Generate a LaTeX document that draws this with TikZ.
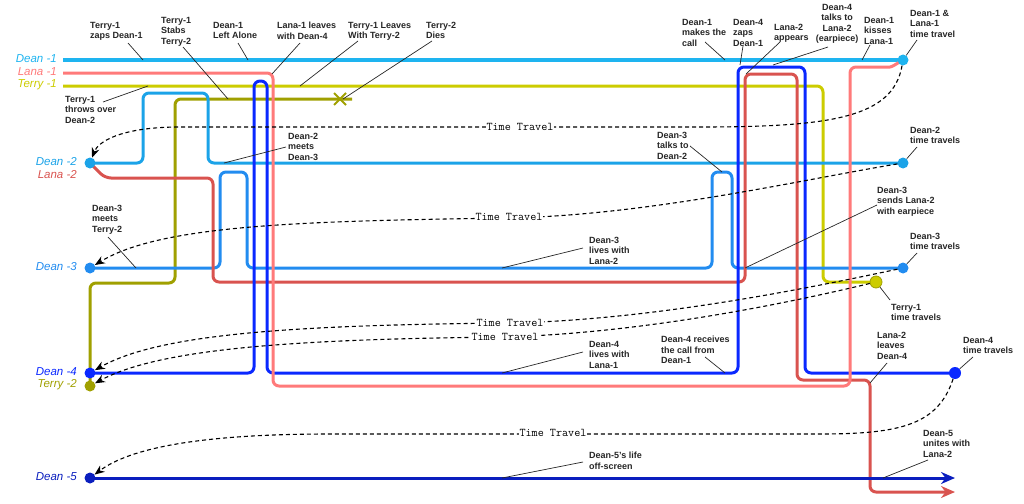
\documentclass[tikz,border=0pt]{standalone}
\usepackage{fontspec}
\setmainfont{Liberation Sans}
\usetikzlibrary{arrows.meta}
\definecolor{cD1}{RGB}{30,180,240}
\definecolor{cL1}{RGB}{255,122,122}
\definecolor{cT1}{RGB}{204,204,0}
\definecolor{cD2}{RGB}{27,163,232}
\definecolor{cD3}{RGB}{34,140,240}
\definecolor{cL2}{RGB}{217,83,79}
\definecolor{cT2}{RGB}{160,160,0}
\definecolor{cD4}{RGB}{10,40,255}
\definecolor{cD5}{RGB}{10,30,190}
\begin{document}
\begin{tikzpicture}[x=1pt,y=-1pt,
 life/.style={line width=3pt, rounded corners=6pt, line join=round},
 ttpath/.style={black, line width=1.1pt, dash pattern=on 4pt off 3pt, -{Stealth[length=10pt,width=8pt]}},
 ttl/.style={fill=white, inner sep=1pt, font=\ttfamily\fontsize{11.8}{13}\selectfont},
 ev/.style={anchor=north west, align=left, inner sep=0pt, font=\bfseries\fontsize{9}{10.6}\selectfont, text=black!85},
 ptr/.style={black!85, line width=0.7pt},
 sidelbl/.style={anchor=east, inner sep=0pt, font=\itshape\fontsize{11.5}{13}\selectfont},
 lifedot/.style={circle, inner sep=0pt, minimum size=11pt},
 bigtip/.style={-{Stealth[length=14pt,width=12pt]}},
]
\useasboundingbox (0,0) rectangle (1024,503);

% life lines
\draw[life,cD1] (63,60) -- (903,60);
\draw[life,cT1] (63,86) -- (823,86) -- (823,282) -- (876,282);
\draw[life,cT2] (90,386) -- (90,283) -- (175,283) -- (175,99) -- (352,99);
\draw[cT2, line width=2pt] (334,93) -- (346,105) (334,105) -- (346,93);
\draw[life,cD2] (90,163) -- (143,163) -- (143,93) -- (208,93) -- (208,163) -- (903,163);
\draw[life,cD3] (90,268) -- (220,268) -- (220,172) -- (247,172) -- (247,268) -- (712,268) -- (712,172) -- (732,172) -- (732,268) -- (903,268);
\draw[life,cL2,bigtip] (90,163) -- (105,178) -- (213,178) -- (213,282) -- (745,282) -- (745,74) -- (797,74) -- (797,380) -- (870,380) -- (870,492) -- (955,492);
\draw[life,cD4] (90,373) -- (254,373) -- (254,81) -- (267,81) -- (267,373) -- (738,373) -- (738,67) -- (805,67) -- (805,373) -- (955,373);
\draw[life,cL1] (63,73) -- (273,73) -- (273,386) -- (850,386) -- (850,67) -- (884,67) to[out=0,in=-150] (903,60);
\draw[life,cD5,bigtip] (90,478) -- (955,478);

% dots
\node[lifedot, fill=cD1] (d1e) at (903,60) {};
\node[lifedot, fill=cD2] (d2s) at (90,163) {};
\node[lifedot, fill=cD2] (d2e) at (903,163) {};
\node[lifedot, fill=cD3] (d3s) at (90,268) {};
\node[lifedot, fill=cD3] (d3e) at (903,268) {};
\node[lifedot, fill=cD4] (d4s) at (90,373) {};
\node[lifedot, fill=cD4, minimum size=12pt] (d4e) at (955,373) {};
\node[lifedot, fill=cT2] (t2s) at (90,386) {};
\node[lifedot, fill=cT1, draw=cT2, line width=0.8pt, minimum size=12pt] (t1e) at (876,282) {};
\node[lifedot, fill=cD5] (d5s) at (90,478) {};

% side labels
\node[sidelbl, text=cD1] (ld1) at (57,59) {Dean -1};
\node[sidelbl, text=cL1] (ll1) at (57,72) {Lana -1};
\node[sidelbl, text=cT1] (lt1) at (57,85) {Terry -1};
\node[sidelbl, text=cD2] (ld2) at (77,162) {Dean -2};
\node[sidelbl, text=cL2] (ll2) at (77,175) {Lana -2};
\node[sidelbl, text=cD3] (ld3) at (77,267) {Dean -3};
\node[sidelbl, text=cD4] (ld4) at (77,372) {Dean -4};
\node[sidelbl, text=cT2] (lt2) at (77,385) {Terry -2};
\node[sidelbl, text=cD5] (ld5) at (77,477) {Dean -5};

% time travel
\draw[ttpath] (d1e) .. controls (893,118) and (830,127) .. (700,127) -- (180,127) .. controls (120,127) and (98,142) .. (d2s);
\node[ttl] (tt1) at (520,127) {Time Travel};
\draw[ttpath] (d2e) .. controls (800,180) and (650,215) .. (509,218) .. controls (300,221) and (160,225) .. (d3s);
\node[ttl] (tt2) at (509,217) {Time Travel};
\draw[ttpath] (d3e) .. controls (800,290) and (650,320) .. (510,323) .. controls (300,325) and (160,333) .. (d4s);
\node[ttl] (tt3) at (510,323) {Time Travel};
\draw[ttpath] (t1e) .. controls (780,305) and (640,333) .. (505,337) .. controls (300,339) and (160,348) .. (t2s);
\node[ttl] (tt4) at (505,337) {Time Travel};
\draw[ttpath] (d4e) .. controls (938,425) and (900,434) .. (820,434) -- (330,434) .. controls (200,434) and (130,448) .. (d5s);
\node[ttl] (tt5) at (553,433) {Time Travel};

% event labels
\node[ev] (ev1) at (90,21.7) {Terry-1\\zaps Dean-1};
\draw[ptr] (128,43) -- (143,60);
\node[ev] (ev2) at (161,16.7) {Terry-1\\Stabs\\Terry-2};
\draw[ptr] (183,47) -- (228,99);
\node[ev] (ev3) at (213,21.7) {Dean-1\\Left Alone};
\draw[ptr] (238,43) -- (248,60);
\node[ev] (ev4) at (277,21.7) {Lana-1 leaves\\with Dean-4};
\draw[ptr] (300,43) -- (272,74);
\node[ev] (ev5) at (348,21.7) {Terry-1 Leaves\\With Terry-2};
\draw[ptr] (358,41) -- (300,86);
\node[ev] (ev6) at (426,21.7) {Terry-2\\Dies};
\draw[ptr] (432,41) -- (343,99);
\node[ev] (ev7) at (65,95.7) {Terry-1\\throws over\\Dean-2};
\draw[ptr] (103,102) -- (148,86);
\node[ev] (ev8) at (288,132.7) {Dean-2\\meets\\Dean-3};
\draw[ptr] (286,147) -- (224,163);
\node[ev] (ev9) at (682,18.7) {Dean-1\\makes the\\call};
\draw[ptr] (705,42) -- (725,60);
\node[ev] (ev10) at (733,18.7) {Dean-4\\zaps\\Dean-1};
\draw[ptr] (743,46) -- (740,65);
\node[ev] (ev11) at (774,23.7) {Lana-2\\appears};
\draw[ptr] (780,42) -- (746,74);
\node[ev, anchor=north, align=center] (ev12) at (837,3.7) {Dean-4\\talks to\\Lana-2\\(earpiece)};
\draw[ptr] (828,47) -- (773,65);
\node[ev] (ev13) at (864,16.7) {Dean-1\\kisses\\Lana-1};
\draw[ptr] (870,45) -- (862,60);
\node[ev] (ev14) at (910,9.7) {Dean-1 \&\\Lana-1\\time travel};
\draw[ptr] (917,40) -- (d1e);
\node[ev] (ev15) at (910,126.7) {Dean-2\\time travels};
\draw[ptr] (917,147) -- (d2e);
\node[ev] (ev16) at (657,131.7) {Dean-3\\talks to\\Dean-2};
\draw[ptr] (690,146) -- (722,172);
\node[ev] (ev17) at (92,204.7) {Dean-3\\meets\\Terry-2};
\draw[ptr] (108,237) -- (136,268);
\node[ev] (ev18) at (589,236.7) {Dean-3\\lives with\\Lana-2};
\draw[ptr] (583,248) -- (502,268);
\node[ev] (ev19) at (877,186.7) {Dean-3\\sends Lana-2\\with earpiece};
\draw[ptr] (877,205) -- (745,268);
\node[ev] (ev20) at (910,232.7) {Dean-3\\time travels};
\draw[ptr] (917,253) -- (d3e);
\node[ev] (ev21) at (891,303.7) {Terry-1\\time travels};
\draw[ptr] (890,300) -- (t1e);
\node[ev] (ev22) at (589,340.7) {Dean-4\\lives with\\Lana-1};
\draw[ptr] (583,352) -- (502,373);
\node[ev] (ev23) at (661,335.7) {Dean-4 receives\\the call from\\Dean-1};
\draw[ptr] (705,357) -- (725,373);
\node[ev] (ev24) at (877,331.7) {Lana-2\\leaves\\Dean-4};
\draw[ptr] (887,363) -- (870,383);
\node[ev] (ev25) at (963,336.7) {Dean-4\\time travels};
\draw[ptr] (973,357) -- (d4e);
\node[ev] (ev26) at (923,429.7) {Dean-5\\unites with\\Lana-2};
\draw[ptr] (928,460) -- (883,478);
\node[ev] (ev27) at (589,451.7) {Dean-5's life\\off-screen};
\draw[ptr] (583,462) -- (502,478);
\end{tikzpicture}
\end{document}
